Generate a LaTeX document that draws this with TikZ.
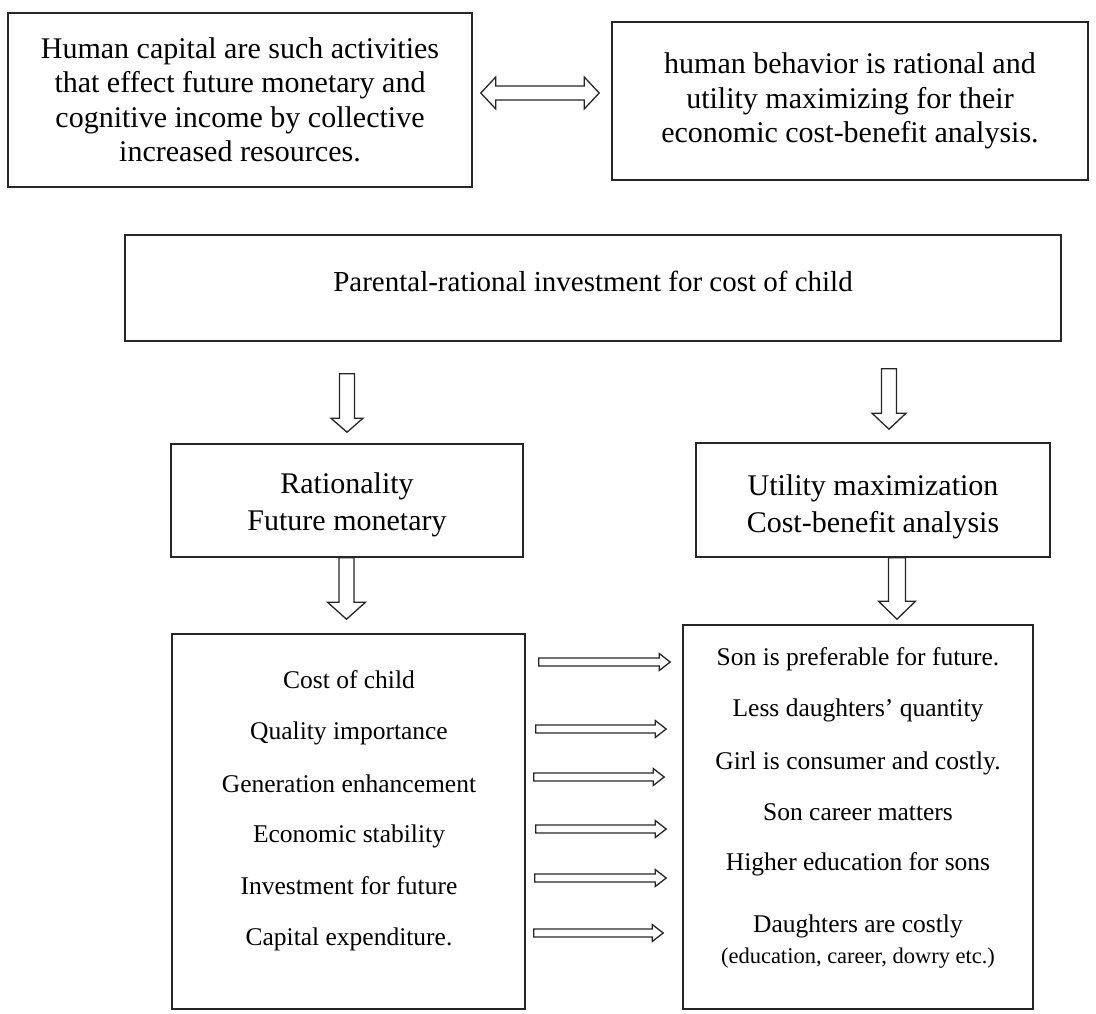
\documentclass[tikz,border=0pt]{standalone}
\usepackage{fontspec}
\setmainfont{Liberation Serif}
\usetikzlibrary{calc}
\tikzset{
  box/.style={draw=black!85, line width=1.6pt, rectangle, inner sep=0pt, align=center},
  blk/.style={draw=black!85, line width=1.3pt, fill=white, line join=miter},
  big/.style={font=\fontsize{30}{34.5}\selectfont},
  mid/.style={font=\fontsize{30}{37}\selectfont},
  ln/.style={inner sep=0pt, text height=0.7em, text depth=0.2em, font=\fontsize{25.5}{30}\selectfont},
  lnsmall/.style={inner sep=0pt, text height=0.7em, text depth=0.2em, font=\fontsize{22.5}{26}\selectfont},
}
% vertical hollow block arrow: #1 top point, #2 tip point, #3 shaft half, #4 head half, #5 head length
\newcommand\downblock[5]{\draw[blk] let \p1=#1, \p2=#2 in
  (\x2-#3,\y1) -- (\x2-#3,\y2+#5) -- (\x2-#4,\y2+#5) -- (\x2,\y2) -- (\x2+#4,\y2+#5)
  -- (\x2+#3,\y2+#5) -- (\x2+#3,\y1) -- cycle;}
% list arrow from L to R at pixel row #1, gaps #2 and #3
\newcommand\listarrow[3]{\draw[blk] let \p1=(L.east), \p2=(R.west), \p3=(0,#1) in
  (\x1+#2,\y3+4pt) -- (\x2-#3-11pt,\y3+4pt) -- (\x2-#3-11pt,\y3+8.5pt) -- (\x2-#3,\y3)
  -- (\x2-#3-11pt,\y3-8.5pt) -- (\x2-#3-11pt,\y3-4pt) -- (\x1+#2,\y3-4pt) -- cycle;}
\begin{document}
\begin{tikzpicture}[x=1pt,y=-1pt]
\useasboundingbox (0,0) rectangle (1096,1013);
% top boxes
\node[box, big, minimum width=464pt, minimum height=174pt] (tl) at (240,100)
  {Human capital are such activities\\that effect future monetary and\\cognitive income by collective\\increased resources.};
\node[box, big, minimum width=476pt, minimum height=158pt] (tr) at (850,101)
  {human behavior is rational and\\utility maximizing for their\\economic cost-benefit analysis.};
% double arrow
\draw[blk] let \p1=([xshift=8pt,yshift=7pt]tl.east), \p2=([xshift=-12pt]tr.west) in
  (\x1,\y1) -- (\x1+15pt,\y1+16pt) -- (\x1+15pt,\y1+7pt) -- (\x2-15pt,\y1+7pt) -- (\x2-15pt,\y1+16pt)
  -- (\x2,\y1) -- (\x2-15pt,\y1-16pt) -- (\x2-15pt,\y1-7pt) -- (\x1+15pt,\y1-7pt) -- (\x1+15pt,\y1-16pt) -- cycle;
% middle box
\node[box, font=\fontsize{29}{34}\selectfont, minimum width=936pt, minimum height=106pt] (mid) at (593,288)
  {Parental-rational investment for cost of child\rule[-14pt]{0pt}{0pt}};
% second row
\node[box, mid, minimum width=352pt, minimum height=113pt] (rat) at (347,500.5)
  {\rule{0pt}{29pt}Rationality\\Future monetary};
\node[box, mid, minimum width=354pt, minimum height=114pt] (util) at (873,500)
  {\rule{0pt}{34pt}Utility maximization\\Cost-benefit analysis};
\downblock{([yshift=-32pt]mid.south)}{([yshift=11pt]rat.north)}{7.5pt}{16pt}{14pt}
\downblock{([yshift=-27pt]mid.south)}{([xshift=16pt,yshift=13pt]util.north)}{7.5pt}{17pt}{16pt}
% bottom boxes
\node[box, minimum width=353pt, minimum height=375pt] (L) at (348.5,821.5) {};
\node[box, minimum width=350pt, minimum height=384pt] (R) at (858,817) {};
\downblock{(rat.south)}{([xshift=-2pt,yshift=14pt]L.north)}{7.5pt}{19pt}{17pt}
\downblock{(util.south)}{([xshift=39pt,yshift=5pt]R.north)}{8.5pt}{18.5pt}{18pt}
% left list
\node[ln] (l1) at (349,686) {Cost of child};
\node[ln] (l2) at (349,737) {Quality importance};
\node[ln] (l3) at (349,790) {Generation enhancement};
\node[ln] (l4) at (349,840) {Economic stability};
\node[ln] (l5) at (349,892) {Investment for future};
\node[ln] (l6) at (349,943) {Capital expenditure.};
% right list
\node[ln] (r1) at (858,663) {Son is preferable for future.};
\node[ln] (r2) at (858,714) {Less daughters’ quantity};
\node[ln] (r3) at (858,767) {Girl is consumer and costly.};
\node[ln] (r4) at (858,818) {Son career matters};
\node[ln] (r5) at (858,868) {Higher education for sons};
\node[ln] (r6) at (858,930) {Daughters are costly};
\node[lnsmall] (r7) at (858,961) {(education, career, dowry etc.)};
% list arrows
\listarrow{662}{13pt}{12pt}
\listarrow{729}{10pt}{16pt}
\listarrow{777}{8pt}{18pt}
\listarrow{829}{10pt}{16pt}
\listarrow{878}{9pt}{16pt}
\listarrow{933}{8pt}{19pt}
\end{tikzpicture}
\end{document}
